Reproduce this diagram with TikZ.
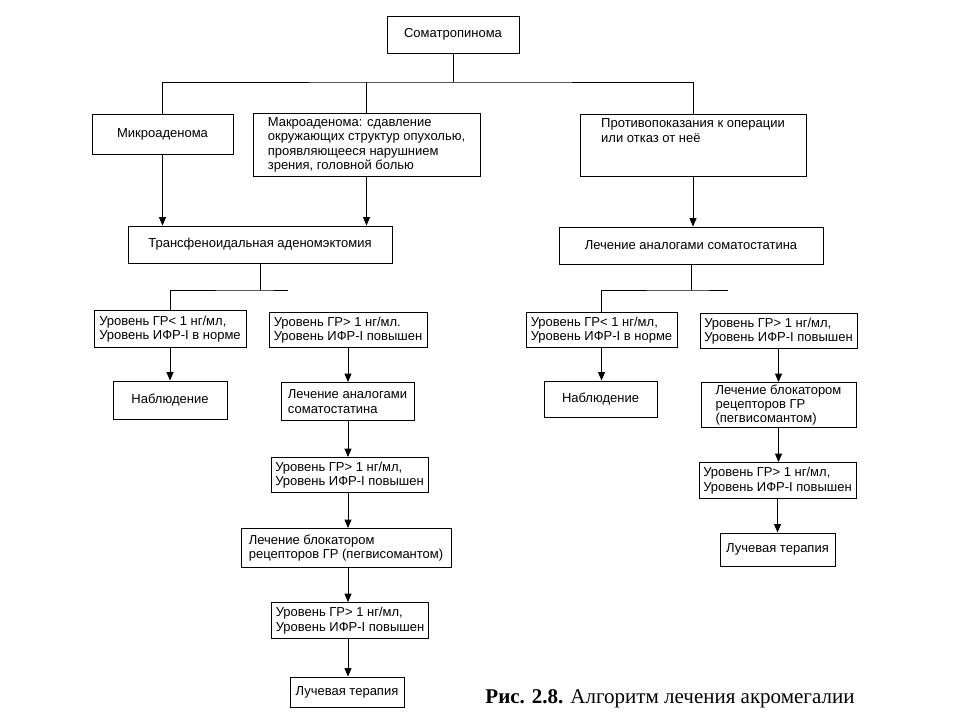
\documentclass[tikz,border=0pt]{standalone}
\usepackage{fontspec}
\setmainfont{Liberation Sans}
\newfontfamily\capfont{Liberation Serif}
\usetikzlibrary{arrows.meta}

\begin{document}
\begin{tikzpicture}[x=1pt, y=-1pt,
	box/.style={draw, line width=0.9pt, font=\fontsize{13}{14.5}\selectfont, inner xsep=4pt, inner ysep=2pt},
	lbox/.style={box, align=left},
	arr/.style={-{Triangle[length=8.5pt, width=7pt]}},
	line/.style={line width=0.9pt}]
		\useasboundingbox (0,0) rectangle (960,720);
		%%%%%%%%%%%%%
		\node[box, minimum width=132, minimum height=37] (som) at (453, 34.5) {Соматропинома};
		\node[box, minimum width=141, minimum height=40] (micro) at (162.5, 134) {Микроаденома};
		\node[lbox, minimum width=227, minimum height=63] (macro) at (366.5, 145) {Макроаденома: сдавление\\ окружающих структур опухолью,\\ проявляющееся нарушнием\\ зрения, головной болью};
		\node[lbox, minimum width=226, minimum height=62] (contra) at (693, 145) {Противопоказания к операции\\ или отказ от неё\\ ~\\ ~};
		\node[box, minimum width=264, minimum height=37] (trans) at (260, 244.5) {Трансфеноидальная аденомэктомия};
		\node[box, minimum width=264, minimum height=37] (treatR) at (691, 245.5) {Лечение аналогами соматостатина};
		%%%%%%%%%%%%%
		\node[lbox, minimum width=152, minimum height=37] (lowL) at (170, 329) {Уровень ГР< 1 нг/мл,\\ Уровень ИФР-I в норме};
		\node[lbox, minimum width=158, minimum height=35] (highL) at (348, 330) {Уровень ГР> 1 нг/мл.\\ Уровень ИФР-I повышен};
		\node[box, minimum width=114, minimum height=38] (obsL) at (170, 400) {Наблюдение};
		\node[lbox, minimum width=133, minimum height=38] (analL) at (347.5, 401.5) {Лечение аналогами\\ соматостатина};
		\node[lbox, minimum width=157, minimum height=35] (highL2) at (349.5, 475) {Уровень ГР> 1 нг/мл,\\ Уровень ИФР-I повышен};
		\node[lbox, minimum width=210, minimum height=39] (blockL) at (346, 548) {Лечение блокатором\\ рецепторов ГР (пегвисомантом)};
		\node[lbox, minimum width=156, minimum height=36] (highL3) at (350, 620.5) {Уровень ГР> 1 нг/мл,\\ Уровень ИФР-I повышен};
		\node[box, minimum width=114, minimum height=30] (radL) at (347, 692) {Лучевая терапия};
		%%%%%%%%%%%%%
		\node[lbox, minimum width=151, minimum height=35] (lowR) at (601.5, 330) {Уровень ГР< 1 нг/мл,\\ Уровень ИФР-I в норме};
		\node[lbox, minimum width=157, minimum height=35] (highR) at (778.5, 331) {Уровень ГР> 1 нг/мл,\\ Уровень ИФР-I повышен};
		\node[box, minimum width=113, minimum height=36] (obsR) at (600.5, 399) {Наблюдение};
		\node[lbox, minimum width=155, minimum height=45, font=\fontsize{13}{14}\selectfont] (blockR) at (778.5, 405) {Лечение блокатором\\ рецепторов ГР\\ (пегвисомантом)};
		\node[lbox, minimum width=157, minimum height=36] (highR2) at (777.5, 480.5) {Уровень ГР> 1 нг/мл,\\ Уровень ИФР-I повышен};
		\node[box, minimum width=115, minimum height=33] (radR) at (777.5, 549.5) {Лучевая терапия};
		%%%%%%%%%%%%%
		\node[font=\capfont\fontsize{21}{23}\selectfont] (cap) at (670, 699) {\textbf{Рис. 2.8.} Алгоритм лечения акромегалии};
		%%%%%%%%%%%%%
		\coordinate (top) at (453, 82);
		\coordinate (forkL) at (260, 290); \coordinate (endL) at (288, 290);
		\coordinate (forkR) at (691, 290); \coordinate (endR) at (728, 290);
		%%%%%%%%%%%%%
		\draw[line] (som) -- (top);
		\draw[line] (micro) |- (top) -| (contra);
		\draw[line] (macro.north) -- (macro.north |- top);
		\draw[line, arr] (micro) -- (micro |- trans.north); \draw[line, arr] (macro.south) -- (macro.south |- trans.north);
		\draw[line, arr] (contra) -- (contra |- treatR.north);
		%%%%%%%%%%%%%
		\draw[line] (trans) -- (forkL); \draw[line] (lowL.north) |- (forkL) -- (endL);
		\draw[line] (treatR) -- (forkR); \draw[line] (lowR.north) |- (forkR) -- (endR);
		%%%%%%%%%%%%%
		\draw[line, arr] (lowL) -- (lowL |- obsL.north);
		\draw[line, arr] (highL) -- (highL |- analL.north);
		\draw[line, arr] (analL.south -| highL) -- (highL |- highL2.north);
		\draw[line, arr] (highL2.south -| highL) -- (highL |- blockL.north);
		\draw[line, arr] (blockL.south -| highL) -- (highL |- highL3.north);
		\draw[line, arr] (highL3.south -| highL) -- (highL |- radL.north);
		%%%%%%%%%%%%%
		\draw[line, arr] (lowR) -- (lowR |- obsR.north);
		\draw[line, arr] (highR) -- (highR |- blockR.north);
		\draw[line, arr] (blockR) -- (blockR |- highR2.north);
		\draw[line, arr] (highR2) -- (highR2 |- radR.north);
\end{tikzpicture}
\end{document}
